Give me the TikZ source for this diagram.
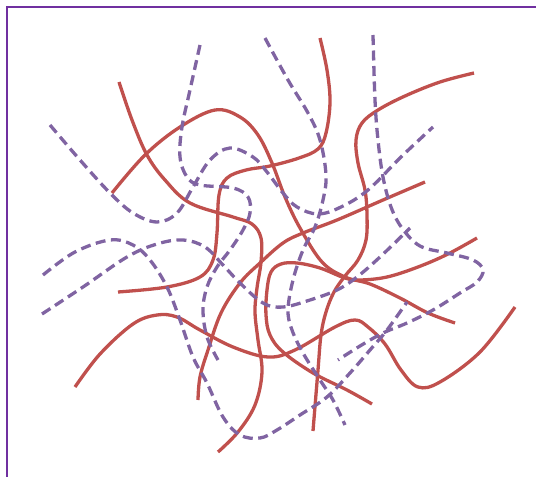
\documentclass[tikz,border=0pt]{standalone}
\definecolor{fibred}{HTML}{C0504D}
\definecolor{fibpurple}{HTML}{8064A2}
\definecolor{framepurple}{HTML}{7030A0}
\begin{document}
\begin{tikzpicture}[x=1pt,y=-1pt,
  solidfib/.style={fibred,line width=3.3pt},
  dashfib/.style={fibpurple,line width=3.3pt,dash pattern=on 10pt off 5.5pt}]
\useasboundingbox (0,0) rectangle (536,477);
\draw[framepurple,line width=2.4pt] (7,477) -- (7,7) -- (536,7);
\draw[solidfib] plot[smooth,tension=0.6] coordinates {(119,82) (132,120) (147,155) (165,180) (190,203) (233,217) (252,224) (261,238) (261,262) (257,288) (255,312) (258,340) (262,372) (255,405) (238,432) (218,452)};
\draw[solidfib] plot[smooth,tension=0.6] coordinates {(112,193) (145,155) (180,127) (215,110) (240,117) (258,135) (272,163) (285,197) (300,228) (322,262) (345,277) (370,284) (400,298) (428,313) (455,323)};
\draw[solidfib] plot[smooth,tension=0.6] coordinates {(320,38) (327,70) (330,102) (326,133) (318,149) (299,158) (270,166) (246,170) (227,178) (219,195) (217,233) (213,260) (200,277) (167,287) (118,292)};
\draw[solidfib] plot[smooth,tension=0.6] coordinates {(474,73) (440,82) (405,96) (378,110) (362,123) (356,140) (358,163) (365,190) (367,215) (366,240) (358,260) (345,276) (334,292) (326,312) (321,335) (318,370) (313,431)};
\draw[solidfib] plot[smooth,tension=0.6] coordinates {(425,182) (383,200) (337,220) (303,233) (283,243) (260,263) (240,283) (221,313) (208,350) (200,377) (198,400)};
\draw[solidfib] plot[smooth,tension=0.6] coordinates {(477,238) (448,254) (418,267) (387,277) (360,280) (345,278) (320,268) (297,263) (281,264) (271,272) (267,290) (266,315) (270,335) (283,352) (313,373) (347,390) (372,404)};
\draw[solidfib] plot[smooth,tension=0.6] coordinates {(75,387) (100,354) (133,324) (157,315) (177,317) (200,330) (233,347) (268,357) (295,350) (335,327) (355,320) (368,327) (385,344) (401,370) (418,387) (440,382) (480,352) (515,307)};
\draw[dashfib] plot[smooth,tension=0.6] coordinates {(50,125) (80,160) (110,193) (133,213) (157,222) (177,213) (193,187) (210,160) (230,148) (253,157) (267,172) (283,193) (297,207) (318,214) (341,207) (368,190) (401,157) (433,127)};
\draw[dashfib] plot[smooth,tension=0.6] coordinates {(200,45) (190,90) (182,127) (180,157) (187,177) (200,185) (233,188) (248,197) (250,213) (243,230) (230,250) (217,267) (207,287) (203,310) (207,337) (218,360)};
\draw[dashfib] plot[smooth,tension=0.6] coordinates {(265,38) (288,80) (308,113) (320,140) (326,175) (323,200) (315,227) (303,250) (293,280) (288,310) (292,330) (303,353) (320,380) (333,400) (345,425)};
\draw[dashfib] plot[smooth,tension=0.6] coordinates {(43,275) (75,252) (110,240) (133,245) (150,260) (167,287) (180,320) (193,357) (207,383) (223,417) (240,435) (260,438) (277,430) (300,415) (327,397) (350,373) (370,350) (387,330) (407,302)};
\draw[dashfib] plot[smooth,tension=0.6] coordinates {(42,314) (83,287) (127,257) (157,244) (183,240) (205,247) (223,265) (240,283) (263,303) (283,307) (310,300) (337,290) (357,277) (380,257) (410,228)};
\draw[dashfib] plot[smooth,tension=0.6] coordinates {(373,35) (375,100) (378,140) (383,177) (391,207) (402,228) (420,246) (447,253) (473,260) (483,270) (477,282) (460,293) (433,310) (407,323) (383,333) (360,346) (338,360)};
\end{tikzpicture}
\end{document}
